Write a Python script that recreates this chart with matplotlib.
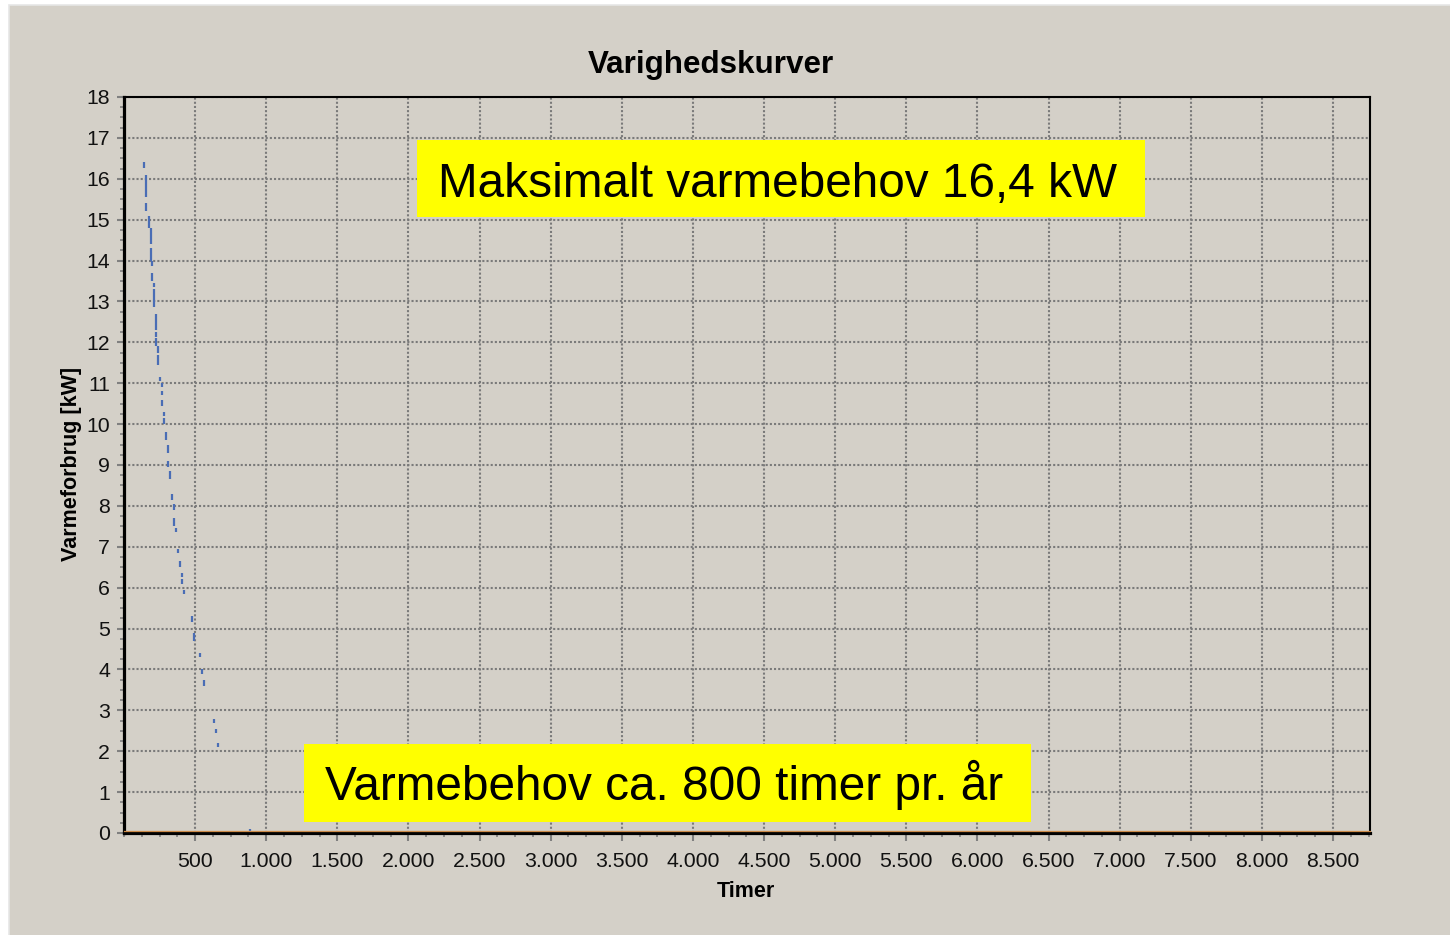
import matplotlib
matplotlib.use("Agg")
import matplotlib.pyplot as plt
import matplotlib.transforms as mtransforms
from matplotlib.patches import Rectangle
from matplotlib.ticker import MultipleLocator, FixedLocator

plt.rcParams['font.family'] = ['Liberation Sans', 'DejaVu Sans']

# duration curve, visible dashes: hour, top kW, bottom kW
dash_hours = [142, 157, 157, 173, 187, 187, 199, 199, 213, 213, 227, 227, 227,
              241, 241, 255, 269, 269, 269, 283, 283, 297, 311, 311, 325, 339,
              353, 353, 367, 381, 395, 409, 409, 424, 480, 492, 536, 550, 564,
              635, 649, 663, 886]
dash_top = [16.40, 16.10, 15.40, 15.10, 14.80, 14.30, 14.00, 13.70, 13.45, 13.30,
            12.70, 12.25, 12.10, 11.90, 11.70, 11.15, 11.00, 10.80, 10.60, 10.30,
            10.15, 9.80, 9.50, 9.10, 8.85, 8.30, 8.05, 7.70, 7.45, 6.95, 6.65,
            6.35, 6.20, 5.95, 5.30, 4.90, 4.40, 4.00, 3.75, 2.80, 2.55, 2.20, 0.10]
dash_bottom = [16.26, 15.55, 15.20, 14.80, 14.40, 14.00, 13.86, 13.50, 13.35, 12.86,
               12.30, 12.12, 11.90, 11.75, 11.45, 11.05, 10.90, 10.70, 10.45, 10.20,
               10.00, 9.60, 9.30, 8.95, 8.65, 8.15, 7.90, 7.50, 7.35, 6.85, 6.50,
               6.25, 6.10, 5.85, 5.15, 4.70, 4.30, 3.90, 3.60, 2.70, 2.45, 2.10, 0.05]

# second series, flat at zero over the whole year
zero_hours = [0, 8760]
zero_kw = [0, 0]

xtick_vals = [500, 1000, 1500, 2000, 2500, 3000, 3500, 4000, 4500,
              5000, 5500, 6000, 6500, 7000, 7500, 8000, 8500]
ytick_vals = list(range(0, 19))

panel = '#d4d0c8'
W, H = 1450, 935

fig = plt.figure(figsize=(W / 100, H / 100), dpi=100, facecolor='white')
# grey panel, its right and bottom edges run off the canvas
fig.patches.append(Rectangle((9 / W, -0.1), 1.2, 1.1 - 4.5 / H, transform=fig.transFigure,
                             facecolor=panel, edgecolor='#e6e6e6', linewidth=1.2, zorder=-5))

ax = fig.add_axes([124 / W, 1 - 833 / H, 1246 / W, 736 / H])
ax.set_zorder(1)
ax.set_facecolor(panel)
ax.set_xlim(0, 8760)
ax.set_ylim(0, 18)

ax.vlines(dash_hours, dash_bottom, dash_top, color='#4a6db5', linewidth=1.6, zorder=3)
# orange line sits just above the bottom spine
shifted = mtransforms.offset_copy(ax.transData, fig=fig, y=1.8, units='dots')
ax.plot(zero_hours, zero_kw, color='#cc8a48', linewidth=0.9, transform=shifted,
        clip_on=False, zorder=3)

ax.xaxis.set_major_locator(FixedLocator(xtick_vals))
ax.set_xticklabels([f"{v:,}".replace(",", ".") for v in xtick_vals])
ax.xaxis.set_minor_locator(MultipleLocator(125))
ax.yaxis.set_major_locator(FixedLocator(ytick_vals))
ax.set_yticklabels([str(v) for v in ytick_vals])
ax.yaxis.set_minor_locator(MultipleLocator(0.25))

ax.tick_params(which='major', direction='out', color='#808080', width=1.5,
               labelsize=15.3, labelcolor='#111111')
ax.tick_params(axis='x', which='major', length=6, pad=8)
ax.tick_params(axis='y', which='major', length=5, pad=5)
ax.tick_params(which='minor', direction='out', color='#808080', width=1.2, length=3)

ax.grid(True, which='major', color='#7a7a7a', linestyle=(0, (1, 1)), linewidth=1.5)
ax.set_axisbelow(True)

for side in ['left', 'bottom']:
    ax.spines[side].set_linewidth(2.3)
for side in ['top', 'right']:
    ax.spines[side].set_linewidth(1.5)

# yellow annotation boxes
ax.add_patch(Rectangle((0.2352, 0.837), 0.5842, 0.1046, transform=ax.transAxes,
                       facecolor='#ffff00', edgecolor='none', zorder=4))
ax.text(0.252, 0.864, "Maksimalt varmebehov 16,4 kW", transform=ax.transAxes,
        fontsize=34.4, va='baseline', ha='left', zorder=5)
ax.add_patch(Rectangle((0.1445, 0.0150), 0.5835, 0.1059, transform=ax.transAxes,
                       facecolor='#ffff00', edgecolor='none', zorder=4))
ax.text(0.1613, 0.0448, "Varmebehov ca. 800 timer pr. år", transform=ax.transAxes,
        fontsize=34.4, va='baseline', ha='left', zorder=5)

fig.text(711 / W, 1 - 73 / H, "Varighedskurver", fontsize=22.6, fontweight='bold',
         ha='center', va='baseline')
fig.text(746 / W, 1 - 897 / H, "Timer", fontsize=15.5, fontweight='bold',
         ha='center', va='baseline')
fig.text(71 / W, 1 - 464 / H, "Varmeforbrug [kW]", fontsize=15.5, fontweight='bold',
         rotation=90, ha='center', va='center')

fig.savefig('out.png', dpi=100, facecolor='white')
